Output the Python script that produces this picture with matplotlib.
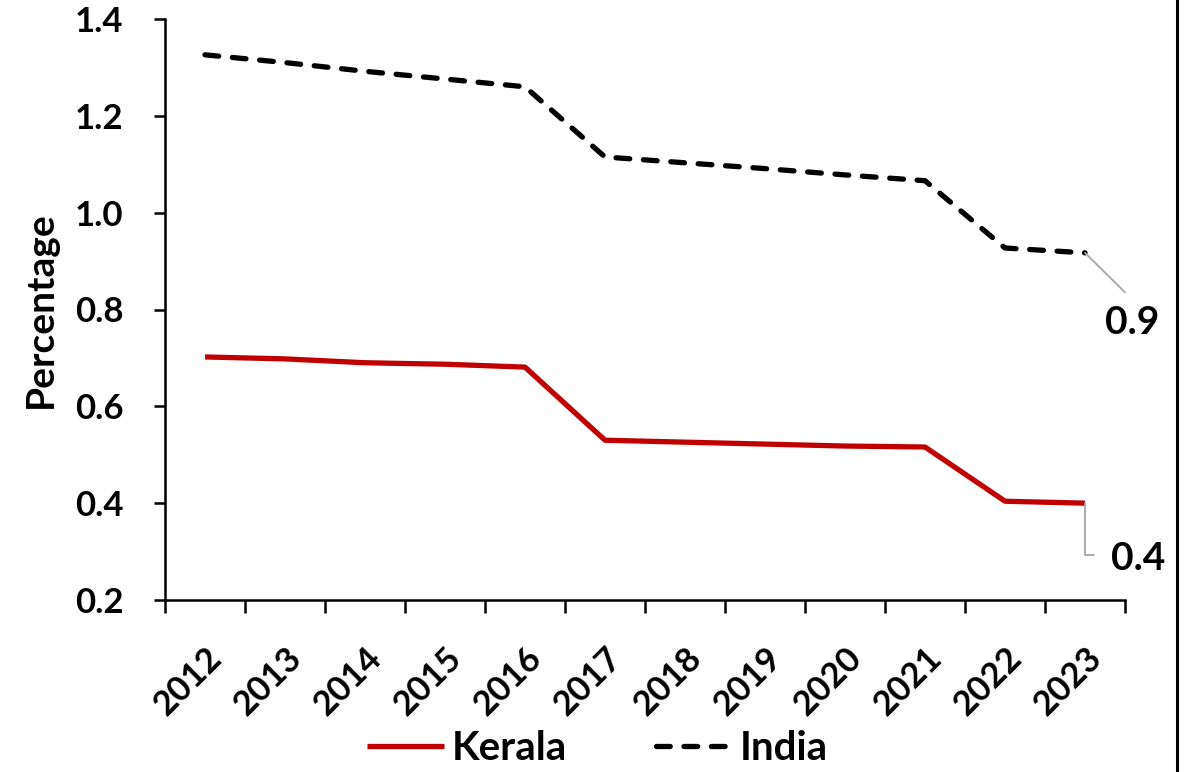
import numpy as np
import matplotlib
matplotlib.use("Agg")
import matplotlib.pyplot as plt
from matplotlib.lines import Line2D

# data
years = ["2012", "2013", "2014", "2015", "2016", "2017",
         "2018", "2019", "2020", "2021", "2022", "2023"]
kerala = [0.702, 0.698, 0.690, 0.687, 0.681, 0.530,
          0.526, 0.522, 0.518, 0.516, 0.404, 0.400]
india = [1.326, 1.310, 1.292, 1.276, 1.260, 1.115,
         1.103, 1.091, 1.078, 1.066, 0.927, 0.917]
end_labels = ["0.4", "0.9"]

plt.rcParams["font.family"] = ["Lato", "DejaVu Sans"]
plt.rcParams["font.weight"] = "bold"
plt.rcParams["axes.labelweight"] = "bold"

fig = plt.figure(figsize=(11.86, 7.72), dpi=100)
ax = fig.add_axes([165 / 1186, 172 / 772, 960 / 1186, 581 / 772])

x = np.arange(len(years))
ax.plot(x, kerala, color="#C00000", lw=3.8, solid_joinstyle="round",
        solid_capstyle="butt", label="Kerala")
ax.plot(x, india, color="black", lw=3.8, dashes=(2.6, 2.6),
        dash_capstyle="round", dash_joinstyle="round", label="India")

ax.set_xlim(-0.5, len(years) - 0.5)
ax.set_ylim(0.2, 1.4)
ax.set_yticks(np.arange(0.2, 1.41, 0.2))
ax.set_yticklabels([f"{v:.1f}" for v in np.arange(0.2, 1.41, 0.2)],
                   fontsize=25, fontweight="bold")
ax.tick_params(axis="y", length=8, width=1.8, pad=22)

ax.set_xticks(x)
ax.set_xticklabels(years, fontsize=25, fontweight="bold", rotation=45,
                   ha="right", va="top", rotation_mode="anchor")
ax.tick_params(axis="x", which="major", length=0, pad=30)
ax.set_xticks(np.arange(-0.5, len(years)), minor=True)
ax.tick_params(axis="x", which="minor", length=9.5, width=1.8)

for side in ["top", "right"]:
    ax.spines[side].set_visible(False)
for side in ["left", "bottom"]:
    ax.spines[side].set_linewidth(1.8)

ax.set_ylabel("Percentage", fontsize=28, fontweight="bold", labelpad=12)

# end-point labels with leader lines
ax.annotate(end_labels[1], xy=(x[-1], india[-1]), xytext=(34, -50),
            textcoords="offset points", ha="center", va="center",
            fontsize=28, fontweight="bold",
            arrowprops=dict(arrowstyle="-", color="#A6A6A6", lw=1.3,
                            shrinkA=10, shrinkB=0, relpos=(0.6, 1.0)))
ax.annotate(end_labels[0], xy=(x[-1], kerala[-1]), xytext=(38, -40),
            textcoords="offset points", ha="center", va="center",
            fontsize=28, fontweight="bold",
            arrowprops=dict(arrowstyle="-", color="#A6A6A6", lw=1.3,
                            connectionstyle="angle,angleA=0,angleB=90,rad=0",
                            shrinkA=10, shrinkB=0, relpos=(0.0, 0.6)))

fig.legend(loc="center", bbox_to_anchor=(0.504, 0.03), ncol=2, frameon=False,
           prop={"size": 29, "weight": "bold"}, handlelength=1.9,
           columnspacing=2.2, handletextpad=0.2)

fig.add_artist(Line2D([1177 / 1186, 1177 / 1186], [0, 1], color="black", lw=2.2))

fig.savefig("out.png", dpi=100)
